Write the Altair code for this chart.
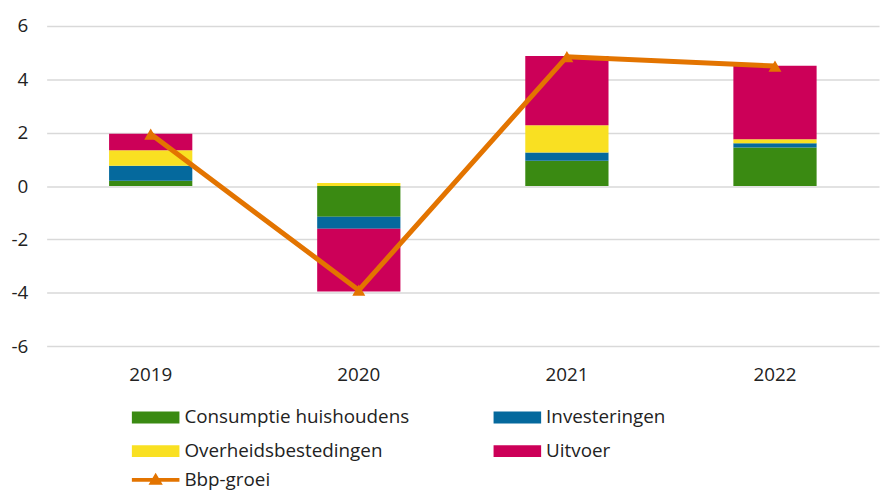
import altair as alt
import pandas as pd

years = ["2019", "2020", "2021", "2022"]
components = ["Consumptie huishoudens", "Investeringen", "Overheidsbestedingen", "Uitvoer"]
consumptie = [0.20, -1.15, 0.95, 1.45]
investeringen = [0.56, -0.45, 0.31, 0.16]
overheid = [0.58, 0.12, 1.02, 0.15]
uitvoer = [0.62, -2.35, 2.60, 2.75]
bbp = [1.95, -3.90, 4.85, 4.50]
colors = ["#3A8A12", "#05699D", "#F9E022", "#CC0058"]
orange = "#E37400"

# legend laid out column-wise: this order gives rows (Consumptie, Investeringen), (Overheid, Uitvoer)
legend_order = [components[0], components[2], components[1], components[3]]
legend_colors = [colors[0], colors[2], colors[1], colors[3]]

rows = []
for i, y in enumerate(years):
    for k, (name, vals) in enumerate(zip(components, [consumptie, investeringen, overheid, uitvoer])):
        rows.append({"jaar": y, "component": name, "waarde": vals[i], "ord": k})
bars_df = pd.DataFrame(rows)
line_df = pd.DataFrame({"jaar": years, "groei": bbp, "reeks": ["Bbp-groei"] * 4})

font = "Open Sans"
fs = 19
xscale = alt.Scale(domain=years, paddingInner=0.6, paddingOuter=0.3)
yscale = alt.Scale(domain=[-6, 6], nice=False)

bars = alt.Chart(bars_df).mark_bar().encode(
    x=alt.X("jaar:N", scale=xscale, sort=years,
            axis=alt.Axis(title=None, labelAngle=0, ticks=False, domain=False,
                          labelPadding=20, labelFontSize=fs, labelFont=font, labelColor="#222222")),
    y=alt.Y("waarde:Q", scale=yscale, stack="zero",
            axis=alt.Axis(title=None, values=[-6, -4, -2, 0, 2, 4, 6], ticks=False, domain=False,
                          labelExpr="toString(datum.value)",
                          labelPadding=19, labelFontSize=fs, labelFont=font, labelColor="#222222",
                          gridColor="#D9D9D9", gridWidth=1.5)),
    color=alt.Color("component:N", scale=alt.Scale(domain=legend_order, range=legend_colors),
                    legend=alt.Legend(title=None, orient="none", legendX=86, legendY=371,
                                      columns=2, columnPadding=84, rowPadding=-5,
                                      symbolType="M-1,-0.25H1V0.25H-1Z", symbolSize=2304,
                                      symbolStrokeWidth=0, labelFontSize=fs, labelFont=font,
                                      labelColor="#222222", labelOffset=5, labelLimit=400)),
    order=alt.Order("ord:Q"),
)

line = alt.Chart(line_df).mark_line(color=orange, strokeWidth=5).encode(
    x=alt.X("jaar:N", scale=xscale, sort=years),
    y=alt.Y("groei:Q", scale=yscale),
)

points = alt.Chart(line_df).mark_point(shape="triangle-up", filled=True, size=170, opacity=1).encode(
    x=alt.X("jaar:N", scale=xscale, sort=years),
    y=alt.Y("groei:Q", scale=yscale),
    fill=alt.Fill("reeks:N", scale=alt.Scale(domain=["Bbp-groei"], range=[orange]),
                  legend=alt.Legend(title=None, orient="none", legendX=86, legendY=434,
                                    symbolType="M-1,-0.08H1V0.08H-1Z M-0.3,0.2L0,-0.3L0.3,0.2Z",
                                    symbolSize=2304, symbolStrokeWidth=0,
                                    labelFontSize=fs, labelFont=font, labelColor="#222222",
                                    labelOffset=5)),
)

chart = alt.layer(bars, line, points).resolve_scale(color="independent").properties(
    width=840, height=323,
    autosize=alt.AutoSizeParams(type="none"),
    padding={"left": 39, "top": 16, "right": 5, "bottom": 145},
).configure_view(stroke=None).configure_legend(padding=0)

chart.save("out.html", embed_options={"renderer": "svg", "actions": False})
